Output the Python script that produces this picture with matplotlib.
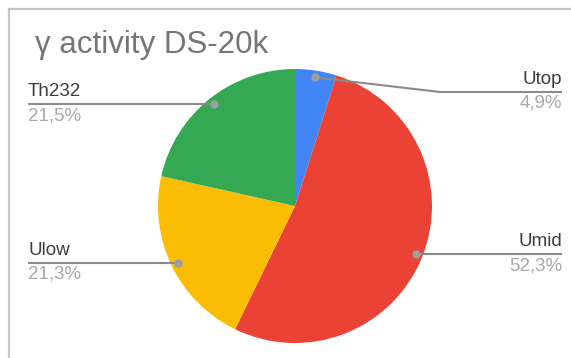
import numpy as np
import matplotlib.pyplot as plt

plt.rcParams['font.family'] = ['Liberation Sans', 'DejaVu Sans']

title = "γ activity DS-20k"
labels = ['Utop', 'Umid', 'Ulow', 'Th232']
values = [4.9, 52.3, 21.3, 21.5]
colors = ['#4285f4', '#ea4335', '#fbbc04', '#34a853']

W, H = 571, 358
cx, cy, R = 295, H - 206, 137

fig = plt.figure(figsize=(W / 100, H / 100), dpi=100)
ax = fig.add_axes([0, 0, 1, 1])
wedges, _ = ax.pie(values, colors=colors, startangle=90, counterclock=False,
                   center=(cx, cy), radius=R, wedgeprops=dict(linewidth=0))
ax.set_xlim(0, W)
ax.set_ylim(0, H)
ax.set_axis_off()

# frame of the chart box
ax.plot([9, W], [H - 8.5, H - 8.5], color='#c4c4c4', lw=1.6)
ax.plot([9, 9], [0, H - 8.5], color='#c4c4c4', lw=1.6)

ax.text(35, H - 53, title, fontsize=22.5, color='#757575', va='baseline')

line_c = '#8a8a8a'
for w, lab, v in zip(wedges, labels, values):
    mid = np.deg2rad((w.theta1 + w.theta2) / 2)
    dx, dy = cx + 0.95 * R * np.cos(mid), cy + 0.95 * R * np.sin(mid)
    pct = f"{v:.1f}".replace('.', ',') + '%'
    if np.cos(mid) < 0:
        xs, ys = [dx, 28], [dy, dy]
        tx, ha, ly = 28, 'left', dy
    elif lab == 'Utop':
        ly = H - 92
        xs, ys = [dx, 440, 562], [dy, ly, ly]
        tx, ha = 562, 'right'
    else:
        xs, ys = [dx, 562], [dy, dy]
        tx, ha, ly = 562, 'right', dy
    ax.plot(xs, ys, color=line_c, lw=1.5, solid_capstyle='butt')
    ax.plot(dx, dy, 'o', color='#9e9e9e', ms=5)
    ax.text(tx, ly + 4, lab, ha=ha, va='bottom', fontsize=13.5, color='#3c3c3c')
    ax.text(tx, ly - 3, pct, ha=ha, va='top', fontsize=13.5, color='#a8a8a8')

fig.savefig('out.png', dpi=100)
